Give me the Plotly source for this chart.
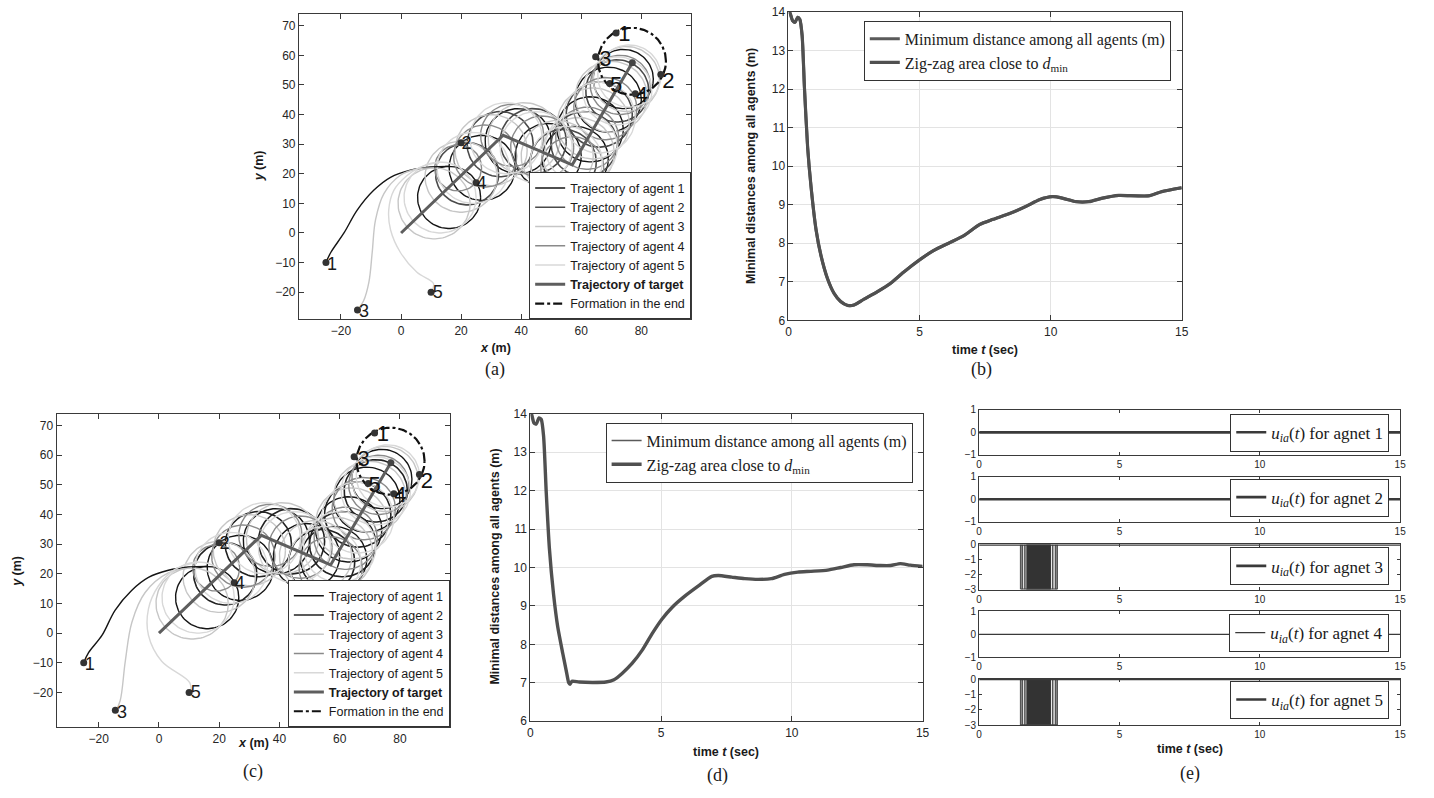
import math
import plotly.graph_objects as go

W, H = 1434, 798

# ---------------- data: panels (a) and (c) : trajectories ----------------
TARGET_X = [0, 34, 57, 77]
TARGET_Y = [0, 33, 23, 57.5]

# orbit loops of each agent (centre x, centre y, radius)
A1_LOOP_X = [16, 27, 39, 49, 58, 63, 69, 74]
A1_LOOP_Y = [12, 22, 31, 26, 25, 35, 45, 52]
A1_LOOP_R = [10.5, 11, 11, 11, 11, 11, 11, 10]
A2_LOOP_X = [22, 33, 44, 54, 61, 66, 72]
A2_LOOP_Y = [20, 30, 31, 24, 30, 40, 48]
A2_LOOP_R = [10.5, 11, 11, 11, 11, 11, 10.5]
A3_LOOP_X = [11, 20, 30, 41, 52, 59, 64, 70, 75]
A3_LOOP_Y = [10, 19, 28, 32, 26, 27, 37, 46, 52]
A3_LOOP_R = [12, 12, 12, 12, 12, 12, 12, 12, 11]
A4_LOOP_X = [19, 28, 37, 47, 57, 62, 68, 73]
A4_LOOP_Y = [22, 26, 33, 29, 22, 32, 42, 50]
A4_LOOP_R = [7.8, 10.5, 10.5, 10.5, 10.5, 10.5, 10.5, 10]
A5_LOOP_X = [13, 24, 35, 45, 55, 60, 66, 72, 76]
A5_LOOP_Y = [12, 22, 32, 29, 24, 29, 39, 48, 53]
A5_LOOP_R = [12, 12, 12, 12, 12, 12, 12, 11.5, 10.5]

# approach paths of agents 1, 3, 5 (panel a)
A1_PATH_X = [-25, -23.4, -19, -14.6, -9.1, -3.5, 3.1, 9.7, 16]
A1_PATH_Y = [-10, -6.6, 0, 7.7, 14.4, 18.8, 21.2, 22.3, 22.5]
A3_PATH_X = [-14.5, -12.5, -10.7, -9.6, -8.5, -5.7, -0.2, 5.3, 11]
A3_PATH_Y = [-26, -23, -16.6, -6.6, 4.4, 13.3, 19.5, 21.6, 22]
A5_PATH_X = [10, 10.8, 5.3, -0.2, -3.5, -4.1, -2.4, 2.0, 6.4, 13]
A5_PATH_Y = [-20, -17.1, -13.3, -6.6, 1.1, 7.7, 14.4, 19.4, 22.2, 24]
# approach paths (panel c)
C_A1_PATH_X = [-25, -23.4, -18.9, -14.6, -9.1, -3.5, 3.1, 9.7, 16]
C_A1_PATH_Y = [-10, -6.6, -0.7, 7.7, 14.4, 18.8, 21.2, 22.3, 22.5]
C_A3_PATH_X = [-14.5, -12.9, -11.2, -9.0, -4.6, 3.1, 11]
C_A3_PATH_Y = [-26.5, -22.8, -9.5, 3.7, 13.7, 20.3, 22]
C_A5_PATH_X = [10.5, 10.2, 0.9, -3.5, -3.5, -0.2, 5.3, 13]
C_A5_PATH_Y = [-20.3, -16.7, -9.5, -0.7, 8.2, 15.9, 21.5, 24]

START_X = [-25, 20, -14.5, 25, 10]
START_Y = [-10, 30.5, -26, 17, -20]
START_LABEL_X = [-23, 21.8, -12.3, 26.8, 12.2]
START_LABEL_Y = [-11, 30, -27, 16.3, -20.5]
END_X = [71.6, 86.5, 64.8, 78.0, 69.5]
END_Y = [67.5, 53.5, 59.5, 47.0, 50.5]
END_LABEL_X = [74.4, 89.0, 68.0, 80.2, 71.6]
END_LABEL_Y = [66.6, 50.9, 58.3, 46.2, 49.4]
AGENT_NAMES = ["1", "2", "3", "4", "5"]
FORMATION_CX, FORMATION_CY, FORMATION_R = 76.9, 58.0, 11.3

# ---------------- data: panel (b) ----------------
B_T = [0.0, 0.04, 0.16, 0.25, 0.35, 0.43, 0.52, 0.61, 0.73, 0.86, 1.05, 1.24, 1.49, 1.74, 1.99,
       2.25, 2.5, 2.88, 3.38, 3.89, 4.39, 4.96, 5.53, 6.16, 6.67, 7.30, 7.80, 8.43, 9.07, 9.57,
       10.08, 10.45, 10.96, 11.46, 11.97, 12.6, 13.23, 13.74, 14.24, 15.0]
B_D = [14.0, 14.0, 13.77, 13.73, 13.86, 13.81, 13.39, 12.02, 10.49, 9.47, 8.36, 7.68, 7.08, 6.70, 6.49,
       6.39, 6.40, 6.55, 6.74, 6.96, 7.25, 7.55, 7.81, 8.02, 8.19, 8.49, 8.62, 8.77, 8.96, 9.13,
       9.21, 9.17, 9.08, 9.08, 9.17, 9.24, 9.23, 9.23, 9.34, 9.44]

# ---------------- data: panel (d) ----------------
D_T = [0.0, 0.04, 0.14, 0.23, 0.33, 0.42, 0.51, 0.61, 0.73, 0.89, 1.05, 1.24, 1.39, 1.47, 1.52,
       1.59, 1.87, 2.38, 2.89, 3.2, 3.52, 3.9, 4.28, 4.66, 5.04, 5.42, 5.92, 6.43, 6.94, 7.19,
       7.70, 8.2, 8.71, 9.22, 9.72, 10.23, 10.73, 11.37, 11.87, 12.38, 12.89, 13.39, 13.77, 14.15,
       14.53, 15.0]
D_D = [14.0, 14.0, 13.76, 13.73, 13.89, 13.85, 13.40, 11.95, 10.50, 9.30, 8.45, 7.77, 7.26, 7.0, 6.96,
       7.04, 7.02, 7.01, 7.02, 7.08, 7.25, 7.51, 7.85, 8.28, 8.66, 8.96, 9.26, 9.52, 9.77, 9.79,
       9.75, 9.71, 9.69, 9.71, 9.82, 9.88, 9.90, 9.93, 10.0, 10.07, 10.07, 10.05, 10.05, 10.10,
       10.06, 10.03]

# ---------------- data: panel (e) ----------------
U_T = [0, 15]
U_ZERO = [0, 0]
CHATTER_TIMES = [1.48, 1.54, 1.63, 2.62, 2.72, 2.78]
CHATTER_BLOCK = [1.68, 2.54]
U_MIN = -3
U_AGENTS = ["1", "2", "3", "4", "5"]
U_CHATTER = [False, False, True, False, True]

# ---------------- helpers ----------------
def fx(px):
    return px / W

def fy(py):
    return 1 - py / H

def loops(cxs, cys, rs, n=91):
    xs, ys = [], []
    for cx, cy, r in zip(cxs, cys, rs):
        for k in range(n):
            a = 2 * math.pi * k / (n - 1)
            xs.append(cx + r * math.cos(a))
            ys.append(cy + r * math.sin(a))
        xs.append(None)
        ys.append(None)
    return xs, ys

AXC = "#3a3a3a"
TICKF = dict(family="Liberation Sans, Arial", size=12, color="#262626")

def axis(domain, rng, anchor, tickvals=None, grid=False, font=None, ticklen=5):
    d = dict(domain=domain, range=rng, anchor=anchor, showline=True, linecolor=AXC, linewidth=1,
             mirror="allticks", ticks="inside", ticklen=ticklen, tickcolor=AXC,
             tickfont=font or TICKF, showgrid=grid, gridcolor="#e3e3e3", gridwidth=1,
             zeroline=False, fixedrange=True)
    if tickvals is not None:
        d["tickvals"] = tickvals
    return d

fig = go.Figure()

# ---------------- trajectory panels ----------------
def traj_panel(xa, ya, leg, colors, paths, lab_sizes):
    loop_sets = [(A1_LOOP_X, A1_LOOP_Y, A1_LOOP_R), (A2_LOOP_X, A2_LOOP_Y, A2_LOOP_R),
                 (A3_LOOP_X, A3_LOOP_Y, A3_LOOP_R), (A4_LOOP_X, A4_LOOP_Y, A4_LOOP_R),
                 (A5_LOOP_X, A5_LOOP_Y, A5_LOOP_R)]
    for i, (lx, ly, lr) in enumerate(loop_sets):
        xs, ys = loops(lx, ly, lr)
        fig.add_trace(go.Scatter(x=xs, y=ys, mode="lines", xaxis=xa, yaxis=ya, legend=leg,
                                 line=dict(color=colors[i], width=1.4 if i != 1 else 1.6),
                                 name="Trajectory of agent " + AGENT_NAMES[i],
                                 legendgroup=leg + str(i), connectgaps=False))
    for i, (px_, py_) in paths.items():
        fig.add_trace(go.Scatter(x=px_, y=py_, mode="lines", xaxis=xa, yaxis=ya, legend=leg,
                                 line=dict(color=colors[i], width=1.4, shape="spline", smoothing=1.0),
                                 showlegend=False, legendgroup=leg + str(i)))
    fig.add_trace(go.Scatter(x=TARGET_X, y=TARGET_Y, mode="lines", xaxis=xa, yaxis=ya, legend=leg,
                             line=dict(color="#5e5e5e", width=3), name="<b>Trajectory of target</b>"))
    fx_, fy_ = loops([FORMATION_CX], [FORMATION_CY], [FORMATION_R], n=181)
    fig.add_trace(go.Scatter(x=fx_, y=fy_, mode="lines", xaxis=xa, yaxis=ya, legend=leg,
                             line=dict(color="#111111", width=2.2, dash="dashdot"),
                             name="Formation in the end"))
    fig.add_trace(go.Scatter(x=[TARGET_X[-1]], y=[TARGET_Y[-1]], mode="markers", xaxis=xa, yaxis=ya,
                             marker=dict(color="#444", size=7), showlegend=False))
    fig.add_trace(go.Scatter(x=START_X + END_X, y=START_Y + END_Y, mode="markers", xaxis=xa, yaxis=ya,
                             marker=dict(color="#333", size=7), showlegend=False))
    fig.add_trace(go.Scatter(x=START_LABEL_X, y=START_LABEL_Y, mode="text", text=AGENT_NAMES,
                             xaxis=xa, yaxis=ya, showlegend=False,
                             textfont=dict(family="Liberation Sans, Arial", size=lab_sizes[0], color="#1a1a1a")))
    fig.add_trace(go.Scatter(x=END_LABEL_X, y=END_LABEL_Y, mode="text", text=AGENT_NAMES,
                             xaxis=xa, yaxis=ya, showlegend=False,
                             textfont=dict(family="Liberation Sans, Arial", size=lab_sizes[1], color="#111")))

traj_panel("x", "y", "legend",
           ["#151515", "#4a4a4a", "#c6c6c6", "#8a8a8a", "#d8d8d8"],
           {0: (A1_PATH_X, A1_PATH_Y), 2: (A3_PATH_X, A3_PATH_Y), 4: (A5_PATH_X, A5_PATH_Y)},
           (18, 22))
traj_panel("x3", "y3", "legend3",
           ["#151515", "#222222", "#c6c6c6", "#8a8a8a", "#d8d8d8"],
           {0: (C_A1_PATH_X, C_A1_PATH_Y), 2: (C_A3_PATH_X, C_A3_PATH_Y), 4: (C_A5_PATH_X, C_A5_PATH_Y)},
           (18, 22))

# ---------------- distance panels ----------------
def dist_panel(xa, ya, leg, t, d, wmain, wzig):
    fig.add_trace(go.Scatter(x=t, y=d, mode="lines", xaxis=xa, yaxis=ya, legend=leg,
                             line=dict(color="#5a5a5a", width=wmain, shape="spline", smoothing=0.6),
                             name="Minimum distance among all agents (m)"))
    fig.add_trace(go.Scatter(x=t, y=d, mode="lines", xaxis=xa, yaxis=ya, legend=leg,
                             line=dict(color="#505050", width=wzig, shape="spline", smoothing=0.6),
                             name="Zig-zag area close to <i>d</i><sub>min</sub>"))

dist_panel("x2", "y2", "legend2", B_T, B_D, 3, 3.2)
dist_panel("x4", "y4", "legend4", D_T, D_D, 1.6, 3.4)

# ---------------- control panels (e) ----------------
for i in range(5):
    xa, ya, leg = "x%d" % (5 + i), "y%d" % (5 + i), "legend%d" % (5 + i)
    if U_CHATTER[i]:
        fig.add_trace(go.Scatter(x=[CHATTER_BLOCK[0], CHATTER_BLOCK[1], CHATTER_BLOCK[1], CHATTER_BLOCK[0]],
                                 y=[0, 0, U_MIN, U_MIN], fill="toself", mode="lines",
                                 fillcolor="#333333", line=dict(color="#333333", width=1),
                                 xaxis=xa, yaxis=ya, showlegend=False))
        vx, vy = [], []
        for tc in CHATTER_TIMES:
            vx += [tc, tc, None]
            vy += [0, U_MIN, None]
        fig.add_trace(go.Scatter(x=vx, y=vy, mode="lines", line=dict(color="#555", width=1.6),
                                 xaxis=xa, yaxis=ya, showlegend=False))
        fig.add_trace(go.Scatter(x=[CHATTER_TIMES[0], CHATTER_TIMES[-1]], y=[U_MIN, U_MIN], mode="lines",
                                 line=dict(color="#444", width=2), xaxis=xa, yaxis=ya, showlegend=False))
    fig.add_trace(go.Scatter(x=U_T, y=U_ZERO, mode="lines", xaxis=xa, yaxis=ya, legend=leg,
                             line=dict(color="#3a3a3a", width=1.2 if i == 3 else 2.6),
                             name="<i>u<sub>ia</sub></i>(<i>t</i>) for agnet " + U_AGENTS[i]))

# ---------------- layout ----------------
lay = dict(width=W, height=H, autosize=False, margin=dict(l=0, r=0, t=0, b=0),
           paper_bgcolor="white", plot_bgcolor="white", showlegend=True)

lay["xaxis"] = axis([fx(298), fx(693)], [-34, 96.6], "y", tickvals=[-20, 0, 20, 40, 60, 80])
lay["yaxis"] = axis([fy(318), fy(7)], [-29.2, 74], "x", tickvals=[-20, -10, 0, 10, 20, 30, 40, 50, 60, 70])
lay["xaxis2"] = axis([fx(791), fx(1187)], [0, 15], "y2", tickvals=[0, 5, 10, 15], grid=True)
lay["yaxis2"] = axis([fy(319), fy(5)], [6, 14], "x2", tickvals=list(range(6, 15)), grid=True)
lay["xaxis3"] = axis([fx(54), fx(450)], [-34, 96.6], "y3", tickvals=[-20, 0, 20, 40, 60, 80])
lay["yaxis3"] = axis([fy(733), fy(414)], [-31.7, 74], "x3", tickvals=[-20, -10, 0, 10, 20, 30, 40, 50, 60, 70])
lay["xaxis4"] = axis([fx(531), fx(926)], [0, 15], "y4", tickvals=[0, 5, 10, 15], grid=True)
lay["yaxis4"] = axis([fy(727), fy(414)], [6, 14], "x4", tickvals=list(range(6, 15)), grid=True)

E_ROWS = [(410, 456), (478, 524), (547, 593), (615, 662), (684, 731)]
SMALLF = dict(family="Liberation Sans, Arial", size=10, color="#262626")
for i, (top, bot) in enumerate(E_ROWS):
    n = 5 + i
    lay["xaxis%d" % n] = axis([fx(983), fx(1407)], [0, 15], "y%d" % n, tickvals=[0, 5, 10, 15],
                              font=SMALLF, ticklen=3)
    if U_CHATTER[i]:
        yr, tv = [-3, 0], [-3, -2, -1, 0]
    else:
        yr, tv = [-1, 1], [-1, 0, 1]
    lay["yaxis%d" % n] = axis([fy(bot), fy(top)], yr, "x%d" % n, tickvals=tv, font=SMALLF, ticklen=3)

LEGF_SANS = dict(family="Liberation Sans, Arial", size=12.5, color="#1a1a1a")
LEGF_SERIF = dict(family="Liberation Serif, Times New Roman", size=16, color="#1a1a1a")
common = dict(bgcolor="white", bordercolor="#333333", borderwidth=1, tracegroupgap=0)
lay["legend"] = dict(x=fx(693), y=fy(318), xanchor="right", yanchor="bottom", font=LEGF_SANS, **common)
lay["legend3"] = dict(x=fx(450), y=fy(733), xanchor="right", yanchor="bottom", font=LEGF_SANS, **common)
lay["legend2"] = dict(x=fx(1176), y=fy(14), xanchor="right", yanchor="top", font=LEGF_SERIF, **common)
lay["legend4"] = dict(x=fx(916), y=fy(423), xanchor="right", yanchor="top", font=LEGF_SERIF, **common)
E_LEG_TOP = [414, 480, 550, 618, 686]
for i, tp in enumerate(E_LEG_TOP):
    lay["legend%d" % (5 + i)] = dict(x=fx(1396), y=fy(tp), xanchor="right", yanchor="top",
                                     font=dict(family="Liberation Serif, Times New Roman", size=17, color="#1a1a1a"),
                                     **common)

TITLEF = dict(family="Liberation Sans, Arial", size=12.5, color="#1a1a1a")
CAPF = dict(family="Liberation Serif, Times New Roman", size=18, color="#1a1a1a")
ann = []
def note(text, x, y, font, angle=0):
    ann.append(dict(text=text, x=fx(x), y=fy(y), xref="paper", yref="paper", showarrow=False,
                    font=font, textangle=angle, xanchor="center", yanchor="middle"))

note("<b><i>y</i> (m)</b>", 258, 162, TITLEF, -90)
note("<b><i>x</i> (m)</b>", 496, 347, TITLEF)
note("(a)", 495, 369, CAPF)
note("<b>Minimal distances among all agents (m)</b>", 753, 162, TITLEF, -90)
note("<b>time <i>t</i> (sec)</b>", 989, 349, TITLEF)
note("(b)", 985, 369, CAPF)
note("<b><i>y</i> (m)</b>", 14, 574, TITLEF, -90)
note("<b><i>x</i> (m)</b>", 252, 749, TITLEF)
note("(c)", 252, 778, CAPF)
note("<b>Minimal distances among all agents (m)</b>", 495, 570, TITLEF, -90)
note("<b>time <i>t</i> (sec)</b>", 728, 758, TITLEF)
note("(d)", 720, 782, CAPF)
note("<b>time <i>t</i> (sec)</b>", 1195, 755, TITLEF)
note("(e)", 1195, 780, CAPF)
lay["annotations"] = ann

fig.update_layout(**lay)
fig.write_html("out.html", config={"displayModeBar": False},
               post_script="document.body.style.margin='0px';document.body.style.overflow='hidden';")
